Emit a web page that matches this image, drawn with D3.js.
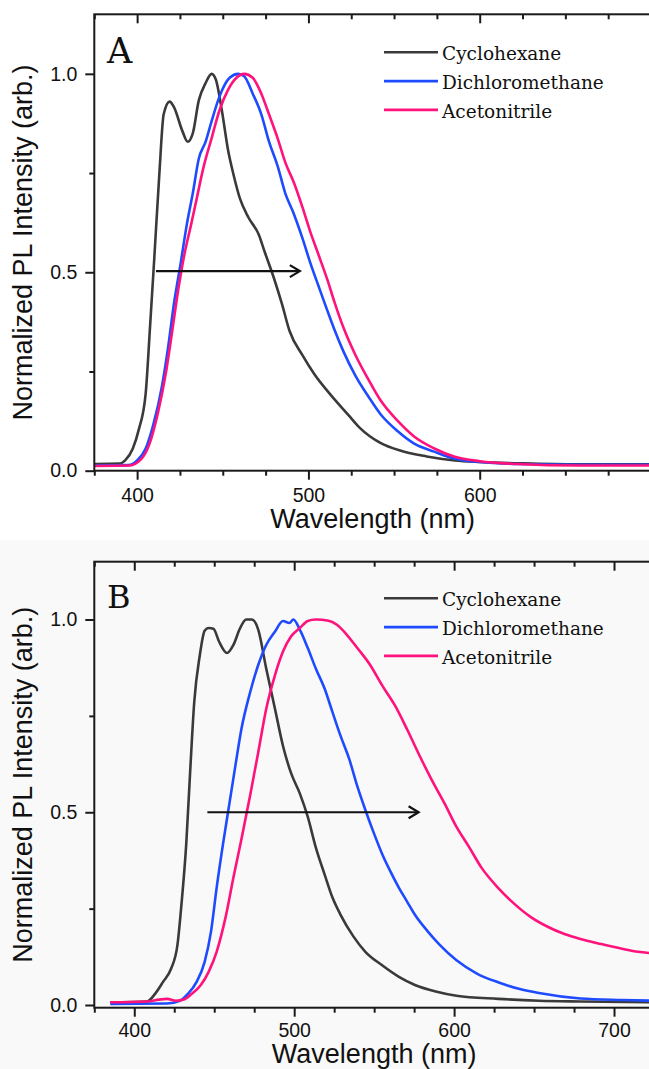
<!DOCTYPE html>
<html><head><meta charset="utf-8">
<script src="https://cdn.jsdelivr.net/npm/d3@7"></script>
<style>body{margin:0;background:#fff} svg{display:block}</style>
</head><body>
<svg id="c" width="649" height="1069"></svg>
<script>
// ---------- DATA ----------
const seriesNames = ["Cyclohexane", "Dichloromethane", "Acetonitrile"];
const seriesColors = ["#3a3a3a", "#1f4bff", "#ff127b"];

const xTicksA = [400, 500, 600];
const xTicksB = [400, 500, 600, 700];
const yTicks = [0.0, 0.5, 1.0];

// Panel A
const cycA_wl = [375, 390, 393, 397.5, 401, 405, 407.5, 410, 413, 415.5, 419, 421.5, 426.5, 429.5, 432.5, 436, 440, 443.5, 446, 449.5, 453, 456.5, 460, 465, 471, 474.5, 479.5, 484.5, 489, 496.5, 503.5, 513, 523, 530, 542, 554, 569, 585.5, 600, 630, 660, 700];
const cycA_v  = [0.017, 0.018, 0.026, 0.056, 0.104, 0.195, 0.36, 0.534, 0.75, 0.898, 0.93, 0.916, 0.855, 0.829, 0.85, 0.933, 0.977, 1.0, 0.985, 0.907, 0.81, 0.742, 0.686, 0.638, 0.595, 0.551, 0.49, 0.421, 0.352, 0.291, 0.243, 0.191, 0.142, 0.108, 0.07, 0.05, 0.036, 0.026, 0.022, 0.018, 0.016, 0.016];
const dcmA_wl = [375, 395, 400, 405, 409.5, 414.5, 418, 421.5, 425.5, 429, 432.5, 436, 440, 443.5, 448, 454, 459, 462.5, 467.5, 472.5, 477, 482, 486.5, 491.5, 496.5, 501, 506, 511, 515.5, 520.5, 527.5, 535, 542, 552, 561.5, 573.5, 585.5, 600, 622, 660, 700];
const dcmA_v  = [0.013, 0.014, 0.026, 0.056, 0.117, 0.213, 0.308, 0.421, 0.525, 0.62, 0.699, 0.786, 0.829, 0.881, 0.942, 0.99, 1.0, 0.994, 0.95, 0.898, 0.829, 0.768, 0.699, 0.647, 0.586, 0.525, 0.464, 0.404, 0.352, 0.3, 0.239, 0.187, 0.143, 0.1, 0.069, 0.048, 0.03, 0.022, 0.017, 0.015, 0.015];
const acnA_wl = [375, 395, 402.5, 407, 412, 417, 420.5, 424, 427.5, 431.5, 435, 438.5, 443.5, 448, 453, 458, 462.5, 467.5, 472.5, 477, 482, 486.5, 491.5, 496.5, 501, 506, 511, 515.5, 520.5, 527.5, 535, 542, 552, 561.5, 573.5, 585.5, 600, 622, 658, 700];
const acnA_v  = [0.012, 0.013, 0.03, 0.065, 0.143, 0.252, 0.352, 0.456, 0.543, 0.62, 0.69, 0.76, 0.838, 0.907, 0.959, 0.99, 1.0, 0.99, 0.95, 0.898, 0.838, 0.777, 0.726, 0.664, 0.603, 0.543, 0.482, 0.421, 0.36, 0.291, 0.23, 0.178, 0.126, 0.087, 0.056, 0.035, 0.024, 0.017, 0.013, 0.013];
const arrowA = {from: 411, to: 495, level: 0.503};

// Panel B
const cycB_wl = [385, 408, 413, 418, 423, 427, 429.5, 432.5, 435, 437.5, 441, 444, 446.5, 449.5, 453, 458, 462, 466, 470, 473.5, 477.5, 482.5, 488, 493, 498, 503.5, 508.5, 513.5, 519, 524, 529, 537, 544.5, 555, 565.5, 575.5, 588.5, 601.5, 627.5, 653, 679, 725];
const cycB_v  = [0.007, 0.009, 0.029, 0.06, 0.094, 0.156, 0.261, 0.418, 0.61, 0.786, 0.908, 0.971, 0.978, 0.976, 0.943, 0.913, 0.934, 0.976, 1.0, 1.0, 0.974, 0.873, 0.768, 0.672, 0.602, 0.549, 0.488, 0.409, 0.339, 0.278, 0.234, 0.178, 0.138, 0.103, 0.073, 0.052, 0.035, 0.024, 0.016, 0.011, 0.009, 0.007];
const dcmB_wl = [385, 420.5, 428.5, 433.5, 439, 444, 448, 451.5, 455.5, 459.5, 463.5, 467, 472.5, 477.5, 482.5, 488, 493, 497, 499.5, 503.5, 508.5, 513.5, 519, 524, 529, 534.5, 539.5, 544.5, 550, 555, 560, 565.5, 570.5, 575.5, 583.5, 591, 601.5, 614.5, 627.5, 640.5, 653, 679, 705, 725];
const dcmB_v  = [0.003, 0.004, 0.011, 0.029, 0.06, 0.112, 0.191, 0.304, 0.418, 0.523, 0.628, 0.716, 0.812, 0.882, 0.934, 0.969, 0.996, 0.991, 1.0, 0.974, 0.926, 0.873, 0.821, 0.759, 0.698, 0.637, 0.567, 0.506, 0.444, 0.392, 0.348, 0.304, 0.269, 0.234, 0.191, 0.156, 0.116, 0.081, 0.059, 0.042, 0.031, 0.017, 0.013, 0.011];
const acnB_wl = [385, 408, 415.5, 420.5, 426, 431, 436, 441.5, 446.5, 451.5, 457, 462, 467, 472.5, 477.5, 482.5, 488, 493, 498, 503.5, 508.5, 513.5, 521.5, 526.5, 532, 539.5, 547.5, 555, 563, 570.5, 578.5, 586, 594, 601.5, 609.5, 617, 627.5, 637.5, 648, 658.5, 669, 679, 692, 705, 715, 725];
const acnB_v  = [0.007, 0.009, 0.014, 0.016, 0.011, 0.014, 0.029, 0.051, 0.086, 0.138, 0.226, 0.331, 0.43, 0.545, 0.655, 0.768, 0.856, 0.917, 0.956, 0.978, 0.996, 1.0, 0.997, 0.987, 0.965, 0.926, 0.882, 0.829, 0.777, 0.716, 0.646, 0.584, 0.523, 0.462, 0.409, 0.357, 0.304, 0.263, 0.228, 0.203, 0.184, 0.171, 0.158, 0.146, 0.138, 0.134];
const arrowB = {from: 445.7, to: 577.8, level: 0.5};

// ---------- DRAW ----------
const svg = d3.select("#c");
svg.append("rect").attr("x", 0).attr("y", 540).attr("width", 649).attr("height", 529).attr("fill", "#f9f9f9");

const defs = svg.append("defs");
const sansFont = "'Liberation Sans', Arial, sans-serif";
const serifFont = "'DejaVu Serif', serif";

function drawPanel(cfg) {
  const x = d3.scaleLinear().domain(cfg.xDomain).range([cfg.left, cfg.right]);
  const y = d3.scaleLinear().domain(cfg.yDomain).range([cfg.bottom, cfg.top]);
  const g = svg.append("g");

  const clipId = "clip" + cfg.id;
  defs.append("clipPath").attr("id", clipId).append("rect")
    .attr("x", cfg.left).attr("y", cfg.top)
    .attr("width", cfg.right - cfg.left).attr("height", cfg.bottom - cfg.top);

  const minorX = d3.range(cfg.xDomain[0], cfg.xDomain[1] + 0.01, 25).filter(v => !cfg.xTicks.includes(v));
  const minorY = [0.25, 0.75];

  function styleAxis(sel) {
    sel.select(".domain").remove();
    sel.selectAll("line").attr("stroke", "#1a1a1a").attr("stroke-width", 2);
    sel.selectAll("text").attr("fill", "#111").style("font-family", sansFont).style("font-size", "19.5px");
  }

  // bottom axis
  g.append("g").attr("transform", `translate(0,${cfg.bottom})`)
    .call(d3.axisBottom(x).tickValues(cfg.xTicks).tickSize(9).tickPadding(cfg.xPad).tickFormat(d3.format("d")))
    .call(styleAxis);
  g.append("g").attr("transform", `translate(0,${cfg.bottom})`)
    .call(d3.axisBottom(x).tickValues(minorX).tickSize(5).tickFormat(""))
    .call(styleAxis);
  // top axis (inward)
  g.append("g").attr("transform", `translate(0,${cfg.top})`)
    .call(d3.axisTop(x).tickValues(cfg.xTicks).tickSize(-9).tickFormat(""))
    .call(styleAxis);
  g.append("g").attr("transform", `translate(0,${cfg.top})`)
    .call(d3.axisTop(x).tickValues(minorX).tickSize(-5).tickFormat(""))
    .call(styleAxis);
  // left axis
  g.append("g").attr("transform", `translate(${cfg.left},0)`)
    .call(d3.axisLeft(y).tickValues(yTicks).tickSize(9).tickPadding(8).tickFormat(d3.format(".1f")))
    .call(styleAxis);
  g.append("g").attr("transform", `translate(${cfg.left},0)`)
    .call(d3.axisLeft(y).tickValues(minorY).tickSize(5).tickFormat(""))
    .call(styleAxis);

  // curves
  const line = d3.line().x(d => x(d[0])).y(d => y(d[1])).curve(d3.curveMonotoneX);
  const cg = g.append("g").attr("clip-path", `url(#${clipId})`);
  cfg.series.forEach((s, i) => {
    const pts = s.wl.map((w, k) => [w, s.v[k]]);
    cg.append("path").datum(pts).attr("d", line)
      .attr("fill", "none").attr("stroke", seriesColors[i]).attr("stroke-width", 2.6)
      .attr("stroke-linejoin", "round");
  });

  // frame
  g.append("rect").attr("x", cfg.left).attr("y", cfg.top)
    .attr("width", cfg.right - cfg.left).attr("height", cfg.bottom - cfg.top)
    .attr("fill", "none").attr("stroke", "#1a1a1a").attr("stroke-width", 2);

  // arrow
  const ax0 = x(cfg.arrow.from), ax1 = x(cfg.arrow.to), ay = y(cfg.arrow.level);
  g.append("line").attr("x1", ax0).attr("x2", ax1 - 1).attr("y1", ay).attr("y2", ay)
    .attr("stroke", "#111").attr("stroke-width", 2.2);
  g.append("path").attr("d", `M${ax1 - 10},${ay - 6}L${ax1},${ay}L${ax1 - 10},${ay + 6}`)
    .attr("fill", "none").attr("stroke", "#111").attr("stroke-width", 2.2).attr("stroke-linejoin", "miter");

  // legend
  seriesNames.forEach((n, i) => {
    const ly = cfg.legendY + i * 28.8;
    g.append("line").attr("x1", 384).attr("x2", 438).attr("y1", ly).attr("y2", ly)
      .attr("stroke", seriesColors[i]).attr("stroke-width", 2.6);
    g.append("text").attr("x", 442).attr("y", ly + 8).text(n)
      .style("font-family", serifFont).style("font-size", "18.5px").attr("fill", "#111");
  });

  // panel letter
  g.append("text").attr("x", 107).attr("y", cfg.letterY).text(cfg.letter)
    .style("font-family", serifFont).style("font-size", cfg.letterSize + "px").attr("fill", "#111");

  // axis titles
  g.append("text").attr("x", (cfg.left + cfg.right) / 2).attr("y", cfg.bottom + cfg.titleOffset)
    .attr("text-anchor", "middle").text("Wavelength (nm)")
    .style("font-family", sansFont).style("font-size", "27px").attr("fill", "#111");
  g.append("text").attr("transform", "rotate(-90)")
    .attr("x", -(cfg.top + cfg.bottom) / 2).attr("y", 31.5)
    .attr("text-anchor", "middle").text("Normalized PL Intensity (arb.)")
    .style("font-family", sansFont).style("font-size", "27px").attr("fill", "#111");
}

drawPanel({
  id: "A", left: 94.3, right: 651, top: 14.3, bottom: 470.7,
  xDomain: [375, 700], yDomain: [0, 1.15], xTicks: xTicksA, xPad: 8,
  series: [{wl: cycA_wl, v: cycA_v}, {wl: dcmA_wl, v: dcmA_v}, {wl: acnA_wl, v: acnA_v}],
  arrow: arrowA, letter: "A", letterY: 63.3, letterSize: 35, legendY: 52.3, titleOffset: 57
});
drawPanel({
  id: "B", left: 94.3, right: 654, top: 561.7, bottom: 1007.7,
  xDomain: [375, 725], yDomain: [-0.007, 1.15], xTicks: xTicksB, xPad: 6,
  series: [{wl: cycB_wl, v: cycB_v}, {wl: dcmB_wl, v: dcmB_v}, {wl: acnB_wl, v: acnB_v}],
  arrow: arrowB, letter: "B", letterY: 608.3, letterSize: 32, legendY: 598.3, titleOffset: 55
});
</script>
</body></html>
